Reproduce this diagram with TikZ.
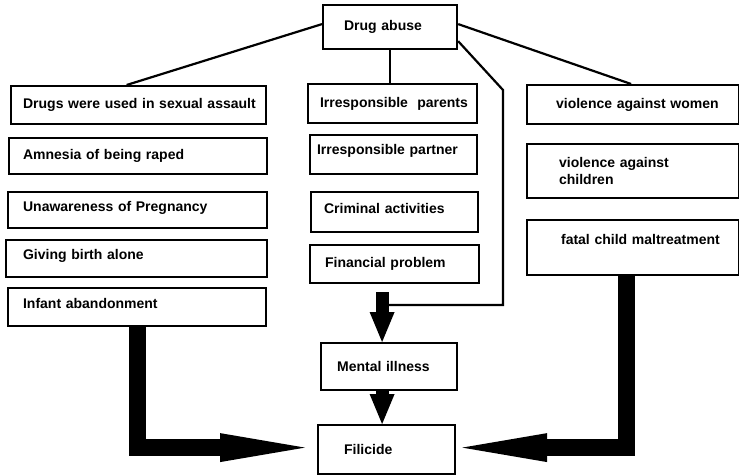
\documentclass[tikz,border=0pt]{standalone}
\usepackage{fontspec}
\setmainfont{Liberation Sans}
\usetikzlibrary{arrows.meta}

\begin{document}
\begin{tikzpicture}[x=1pt, y=-1pt,
        box/.style 2 args={draw, line width=2.2pt, anchor=north west, inner xsep=0pt, inner ysep=0pt, text width=#1, minimum height=#2, align=left, font=\bfseries\fontsize{14}{17}\selectfont},
        textpad/.style={execute at begin node={\leftskip=#1}},
        link/.style={line width=2.2pt},
        fat/.style={line width=13pt, -{Triangle[length=30pt, width=25pt, line width=0pt]}},
        bigarrow/.style={line width=17pt, -{Triangle[length=85pt, width=29pt, line width=0pt]}}
    ]
    \useasboundingbox (0,0) rectangle (739,474);

    % Top
    \node[box={134pt}{44pt}, textpad=21pt] (drug) at (322,4) {Drug abuse};

    % Left column
    \node[box={255pt}{38pt}, textpad=12pt] (assault) at (10,85) {Drugs were used in sexual assault};
    \node[box={258pt}{36pt}, textpad=14pt] (amnesia) at (8,137) {Amnesia of being raped};
    \node[box={259pt}{36pt}, textpad=15pt, text depth=8pt] (unaware) at (7,191) {Unawareness of Pregnancy};
    \node[box={261pt}{37pt}, textpad=17pt, text depth=8pt] (alone) at (5,239) {Giving birth alone};
    \node[box={258pt}{38pt}, textpad=15pt, text depth=8pt] (abandon) at (7,287) {Infant abandonment};

    % Middle column
    \node[box={169pt}{39pt}, textpad=12pt] (parents) at (307,83) {Irresponsible~~parents};
    \node[box={167pt}{39pt}, textpad=7pt, text depth=11pt] (partner) at (309,134) {Irresponsible partner};
    \node[box={167pt}{40pt}, textpad=13pt, text depth=8pt] (criminal) at (310,191) {Criminal activities};
    \node[box={169pt}{38pt}, textpad=15pt] (financial) at (309,244) {Financial problem};

    % Right column
    \node[box={212pt}{39pt}, textpad=29pt] (women) at (526,84) {violence against women};
    \node[box={212pt}{54pt}, textpad=32pt] (children) at (526,143) {violence against\\children};
    \node[box={212pt}{55pt}, textpad=34pt, text depth=17pt] (fatal) at (526,219) {fatal child maltreatment};

    % Bottom
    \node[box={136pt}{47pt}, textpad=16pt] (mental) at (320,342) {Mental illness};
    \node[box={137pt}{49pt}, textpad=26pt] (filicide) at (317,424) {Filicide};

    \coordinate (mid) at ([xshift=-7pt]mental.north);
    \coordinate (bend1) at (503,90);
    \coordinate (bend2) at (503,305);

    % Lines from drug abuse
    \draw[link] ([yshift=3pt]drug.west) -- ([xshift=-12pt]assault.north);
    \draw[link] (drug.south) -- (drug.south |- parents.north);
    \draw[link] ([yshift=3pt]drug.east) -- ([xshift=-2pt]women.north);
    \draw[link] ([yshift=9pt]drug.south east) -- (bend1) -- (bend2) -- (bend2 -| mid);

    % Thick arrows
    \draw[fat, shorten <=8pt] (mid |- financial.south) -- (mid);
    \draw[fat] (mental.south -| mid) -- (filicide.north -| mid);
    \draw[bigarrow, shorten >=12pt] (abandon.south) |- ([yshift=2pt]filicide.west);
    \draw[bigarrow, shorten >=6pt] ([xshift=-7pt]fatal.south) |- ([yshift=2pt]filicide.east);

\end{tikzpicture}
\end{document}
